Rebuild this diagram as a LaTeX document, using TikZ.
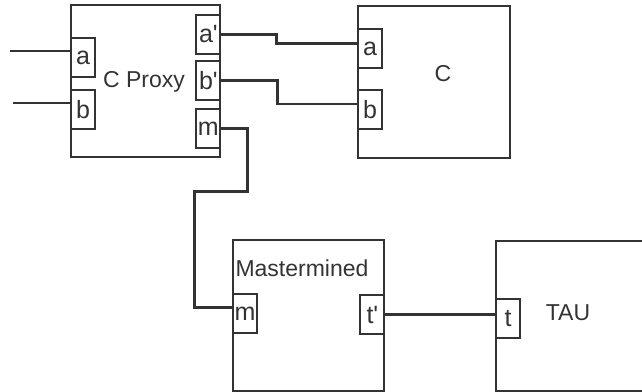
\documentclass[tikz,border=0pt]{standalone}
\usepackage{fontspec}
\setmainfont{Liberation Sans}
\usetikzlibrary{positioning}
\definecolor{ink}{HTML}{333333}
\newcommand{\pr}{\textquotesingle}
\tikzset{
	block/.style={draw=ink, line width=2.4pt, rectangle, inner sep=0pt, anchor=north west},
	port/.style={draw=ink, fill=white, line width=2pt, rectangle, inner sep=0pt, minimum width=24pt, minimum height=39pt, font=\fontsize{25}{27}\selectfont, text=ink},
	wire/.style={draw=ink, line width=2.4pt},
	lbl/.style={font=\fontsize{23}{26}\selectfont, text=ink, inner sep=0pt}
}
\begin{document}
\begin{tikzpicture}[x=1pt, y=-1pt]
	\useasboundingbox (0,0) rectangle (642,391);
	\clip (0,0) rectangle (642,391);

	\node[block, minimum width=149pt, minimum height=152pt] (proxy) at (70,4) {};
	\node[block, minimum width=152pt, minimum height=152pt] (c) at (357,5) {};
	\node[block, minimum width=151pt, minimum height=151pt] (master) at (232,239) {};
	\node[block, minimum width=200pt, minimum height=150pt] (tau) at (495,240) {};

	\node[lbl] (proxylbl) at (144,82) {C Proxy};
	\node[lbl] (clbl) at (443,74) {C};
	\node[lbl] (masterlbl) at (302,268) {Mastermined};
	\node[lbl] (taulbl) at (568,313) {TAU};

	\node[port, anchor=north west] (pa) at ([yshift=-33pt]proxy.north west) {a};
	\node[port, anchor=north west] (pb) at ([yshift=-85pt]proxy.north west) {b};
	\node[port, anchor=north east] (pap) at ([yshift=-10pt]proxy.north east) {a\pr};
	\node[port, anchor=north east] (pbp) at ([yshift=-56pt]proxy.north east) {b\pr};
	\node[port, anchor=north east] (pm) at ([yshift=-104pt]proxy.north east) {m};

	\node[port, anchor=north west] (ca) at ([yshift=-23pt]c.north west) {a};
	\node[port, anchor=north west] (cb) at ([yshift=-84pt]c.north west) {b};

	\node[port, anchor=north west] (mm) at ([yshift=-54pt]master.north west) {m};
	\node[port, anchor=north east] (mt) at ([yshift=-55pt]master.north east) {t\pr};

	\node[port, anchor=north west] (tt) at ([yshift=-58pt]tau.north west) {t};

	\coordinate (ina) at (10,51);
	\coordinate (inb) at (13,103);
	\draw[wire] (ina) -- (ina -| proxy.west);
	\draw[wire] (inb) -- (inb -| proxy.west);

	\draw[wire] (pap.east) -- ++(55,0) |- ([yshift=5pt]ca.west);
	\draw[wire] (pbp.east) -- ++(56,0) |- ([yshift=5.5pt]cb.west);
	\draw[wire] (pm.east) -- ++(26,0) -- ++(0,63) -- ++(-53,0) |- ([yshift=6pt]mm.west);
	\draw[wire] (mt.east) -- (mt.east -| tt.west);
\end{tikzpicture}
\end{document}
